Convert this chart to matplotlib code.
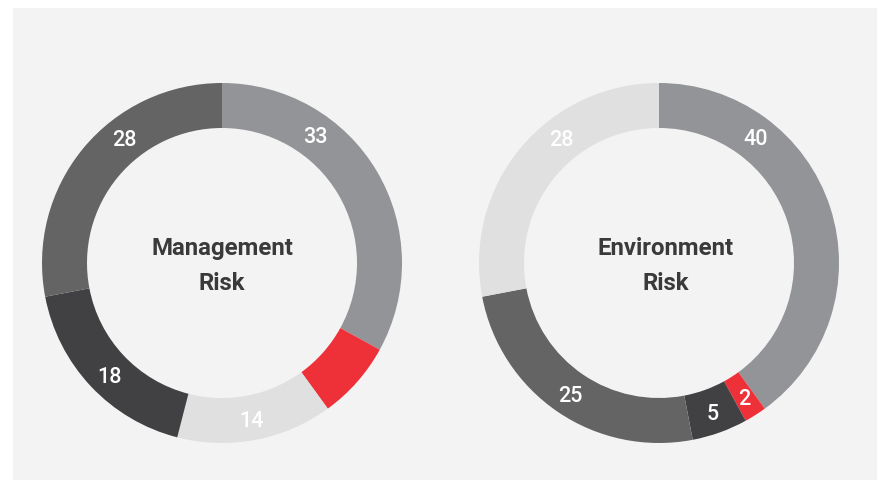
import numpy as np
import matplotlib.pyplot as plt
from matplotlib.patches import Rectangle

# chart values (percent), clockwise from 12 o'clock
MGMT_VALUES = [33, 7, 14, 18, 28]
MGMT_LABELS = ['33', '', '14', '18', '28']
ENV_VALUES = [40, 2, 5, 25, 28]
ENV_LABELS = ['40', '2', '5', '25', '28']
TITLES = ['Management\nRisk', 'Environment\nRisk']

GRAY = '#939497'
RED = '#EE3039'
LIGHT = '#E0E0E0'
DARK = '#414143'
MID = '#636463'
BG = '#F3F3F3'
INK = '#3A3A3A'

MGMT_COLORS = [GRAY, RED, LIGHT, DARK, MID]
ENV_COLORS = [GRAY, RED, DARK, MID, LIGHT]

# label angles (deg clockwise from top); None -> wedge middle
MGMT_LABEL_ANG = [36, None, None, 225, 322]
ENV_LABEL_ANG = [37.5, None, None, None, 322]

W, H = 883, 482
fig = plt.figure(figsize=(W / 100, H / 100), dpi=100)
fig.patch.set_facecolor('white')

# light gray panel
bg = fig.add_axes([0, 0, 1, 1])
bg.set_xlim(0, W)
bg.set_ylim(H, 0)
bg.axis('off')
bg.add_patch(Rectangle((13, 8), 864, 472, color=BG, lw=0))

R_OUT = 180
RING = 0.25
LABEL_R = 0.88


def donut(cx, cy, values, labels, colors, label_ang, title, tx):
    ax = fig.add_axes([(cx - R_OUT) / W, (H - cy - R_OUT) / H,
                       2 * R_OUT / W, 2 * R_OUT / H])
    ax.set_facecolor('none')
    wedges, _ = ax.pie(values, colors=colors, startangle=90, counterclock=False,
                       radius=1, wedgeprops=dict(width=RING, linewidth=0))
    ax.set_xlim(-1, 1)
    ax.set_ylim(-1, 1)
    ax.axis('off')
    for w, lbl, ang in zip(wedges, labels, label_ang):
        if not lbl:
            continue
        if ang is None:
            a = np.deg2rad((w.theta1 + w.theta2) / 2)
        else:
            a = np.deg2rad(90 - ang)
        ax.text(LABEL_R * np.cos(a), LABEL_R * np.sin(a), lbl, color='white',
                fontsize=15.5, ha='center', va='center_baseline', family='Roboto',
                fontweight='medium')
    ax.text(tx, -0.015, title, color=INK, fontsize=17.3, ha='center', va='center',
            family='Roboto', fontweight='bold', linespacing=1.68)


donut(222, 263, MGMT_VALUES, MGMT_LABELS, MGMT_COLORS, MGMT_LABEL_ANG, TITLES[0], 0.0)
donut(659, 263, ENV_VALUES, ENV_LABELS, ENV_COLORS, ENV_LABEL_ANG, TITLES[1], 0.035)

fig.savefig('out.png', dpi=100, facecolor='white')
